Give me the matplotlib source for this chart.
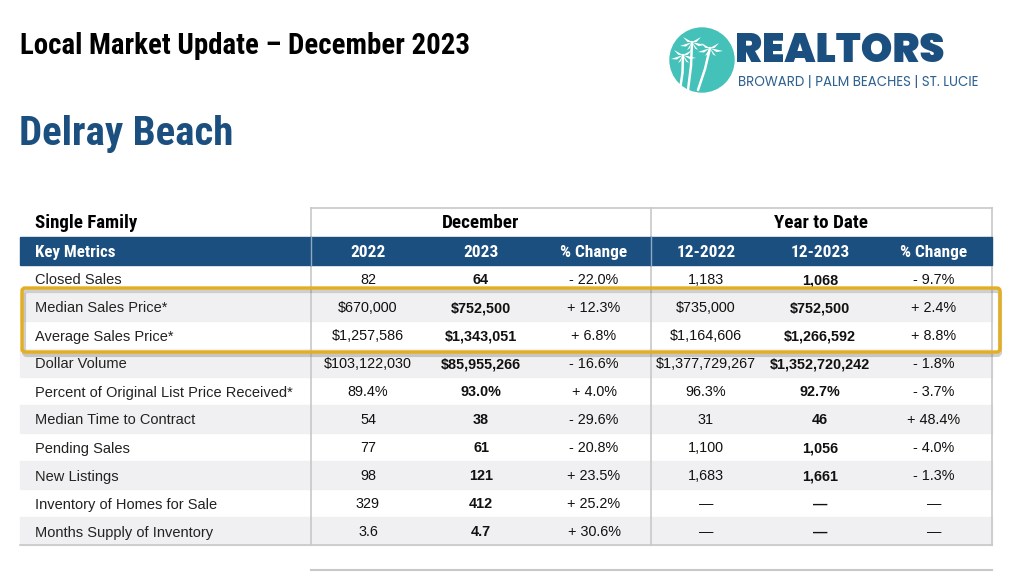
import matplotlib
matplotlib.use("Agg")
import matplotlib.pyplot as plt
from matplotlib.patches import Rectangle, Circle, FancyBboxPatch, Polygon

# ---- data ----
metrics = ["Closed Sales", "Median Sales Price*", "Average Sales Price*", "Dollar Volume",
           "Percent of Original List Price Received*", "Median Time to Contract",
           "Pending Sales", "New Listings", "Inventory of Homes for Sale",
           "Months Supply of Inventory"]
dec_2022 = ["82", "$670,000", "$1,257,586", "$103,122,030", "89.4%", "54", "77", "98", "329", "3.6"]
dec_2023 = ["64", "$752,500", "$1,343,051", "$85,955,266", "93.0%", "38", "61", "121", "412", "4.7"]
dec_chg = ["- 22.0%", "+ 12.3%", "+ 6.8%", "- 16.6%", "+ 4.0%", "- 29.6%", "- 20.8%",
           "+ 23.5%", "+ 25.2%", "+ 30.6%"]
ytd_2022 = ["1,183", "$735,000", "$1,164,606", "$1,377,729,267", "96.3%", "31", "1,100",
            "1,683", "\u2014", "\u2014"]
ytd_2023 = ["1,068", "$752,500", "$1,266,592", "$1,352,720,242", "92.7%", "46", "1,056",
            "1,661", "\u2014", "\u2014"]
ytd_chg = ["- 9.7%", "+ 2.4%", "+ 8.8%", "- 1.8%", "- 3.7%", "+ 48.4%", "- 4.0%", "- 1.3%",
           "\u2014", "\u2014"]
col_heads = ["2022", "2023", "% Change", "12-2022", "12-2023", "% Change"]
highlight_rows = [1, 2]

# ---- style ----
NAVY = "#1b4f7f"
TEAL = "#44c1b8"
GRAY_ROW = "#f0f0f2"
LINE = "#c8c8c8"
GOLD = "#e5ae1f"
COND = ["Roboto Condensed", "Archivo Narrow", "IBM Plex Sans Condensed", "Liberation Sans", "DejaVu Sans"]
BODY = ["Liberation Sans", "Arimo", "DejaVu Sans"]
LOGO = ["Poppins", "Open Sans", "DejaVu Sans"]

fig = plt.figure(figsize=(10.24, 5.72), dpi=100)
ax = fig.add_axes([0, 0, 1, 1])
ax.set_xlim(0, 1024)
ax.set_ylim(572, 0)
ax.axis("off")

# titles
ax.text(20, 46, "Local Market Update \u2013 December 2023", family=COND, weight="bold",
        fontsize=20.8, color="black", va="center", ha="left")
ax.text(19, 134, "Delray Beach", family=COND, weight="bold", fontsize=29.5,
        color=NAVY, va="center", ha="left")

# logo
ax.add_patch(Circle((702, 60), 32, color=TEAL, zorder=2))
# crude palm trees
for bx, tx, ty in [(688, 692, 42), (698, 710, 48), (680, 683, 55)]:
    ax.plot([bx, (bx + tx) / 2 + 1, tx], [90, (90 + ty) / 2, ty], color="white", lw=1.8,
            solid_capstyle="round", zorder=3)
    for dx, dy in [(-12, 4), (-9, -5), (0, -8), (9, -5), (13, 3), (-5, 8), (6, 8)]:
        ax.add_patch(Polygon([(tx, ty), (tx + dx, ty + dy), (tx + dx * 0.5, ty + dy * 0.5 + 2.5)],
                             closed=True, color="white", zorder=3, lw=0))
ax.text(735, 52, "REALTORS", family=LOGO, weight="black",
        fontsize=29, color=NAVY, va="center", ha="left")
ax.text(738, 82, "BROWARD | PALM BEACHES | ST. LUCIE", family=LOGO,
        fontsize=9.6, color="#2f6190", va="center", ha="left")

# ---- table geometry ----
x_left, x_right = 20, 992
x_div = [311, 651]
col_x = [368, 481, 594, 706, 820, 934]
top = 208
head_top, head_bot = 237, 265
row_h = 28
n = len(metrics)
bottom = head_bot + n * row_h

# group header boxes
ax.plot([x_div[0], x_right], [top, top], color=LINE, lw=1.2)
for xv in x_div + [x_right]:
    ax.plot([xv, xv], [top, bottom], color=LINE, lw=1.2, zorder=1)
ax.text(35, 223, "Single Family", family=COND, weight="bold", fontsize=13.6, va="center")
ax.text((x_div[0] + x_div[1]) / 2, 223, "December", family=COND, weight="bold",
        fontsize=13.8, va="center", ha="center")
ax.text((x_div[1] + x_right) / 2, 223, "Year to Date", family=COND, weight="bold",
        fontsize=13.8, va="center", ha="center")

# blue header
ax.add_patch(Rectangle((x_left, head_top), x_right - x_left, head_bot - head_top,
                       color=NAVY, zorder=2))
for xv in x_div:
    ax.plot([xv, xv], [head_top, head_bot], color="#8fa9c2", lw=1, zorder=3)
hy = (head_top + head_bot) / 2 + 1.5
ax.text(35, hy, "Key Metrics", family=COND, weight="bold", fontsize=12.2, color="white",
        va="center", zorder=4)
for cx, lab in zip(col_x, col_heads):
    ax.text(cx, hy, lab, family=COND, weight="bold", fontsize=12.4, color="white",
            va="center", ha="center", zorder=4)

# body rows
columns = [dec_2022, dec_2023, dec_chg, ytd_2022, ytd_2023, ytd_chg]
for i, name in enumerate(metrics):
    y0 = head_bot + i * row_h
    yc = y0 + row_h / 2 + 1.5
    if i % 2 == 1:
        ax.add_patch(Rectangle((x_left, y0), x_right - x_left, row_h, color=GRAY_ROW, zorder=0))
    ax.text(35, yc, name, family=BODY, fontsize=10.5, va="center", color="#222222", zorder=4)
    for j, (cx, col) in enumerate(zip(col_x, columns)):
        bold = j in (1, 4)
        ax.text(cx, yc, col[i], family=BODY, fontsize=10.4, va="center", ha="center",
                weight="bold" if bold else "normal", color="#111111", zorder=4)

ax.plot([x_left, x_right], [bottom, bottom], color=LINE, lw=1.2)
ax.plot([x_div[0], x_right], [570, 570], color=LINE, lw=1.5)

# highlight box with shadow
hb_y0 = head_bot + highlight_rows[0] * row_h - 5
hb_h = len(highlight_rows) * row_h + 8
ax.add_patch(FancyBboxPatch((24, hb_y0 + 3), 976, hb_h, boxstyle="round,pad=0,rounding_size=3",
                            fill=False, ec="#777777", lw=3, alpha=0.35, zorder=5))
ax.add_patch(FancyBboxPatch((22, hb_y0), 978, hb_h, boxstyle="round,pad=0,rounding_size=3",
                            fill=False, ec=GOLD, lw=2.4, zorder=6))

fig.savefig("out.png", dpi=100)
